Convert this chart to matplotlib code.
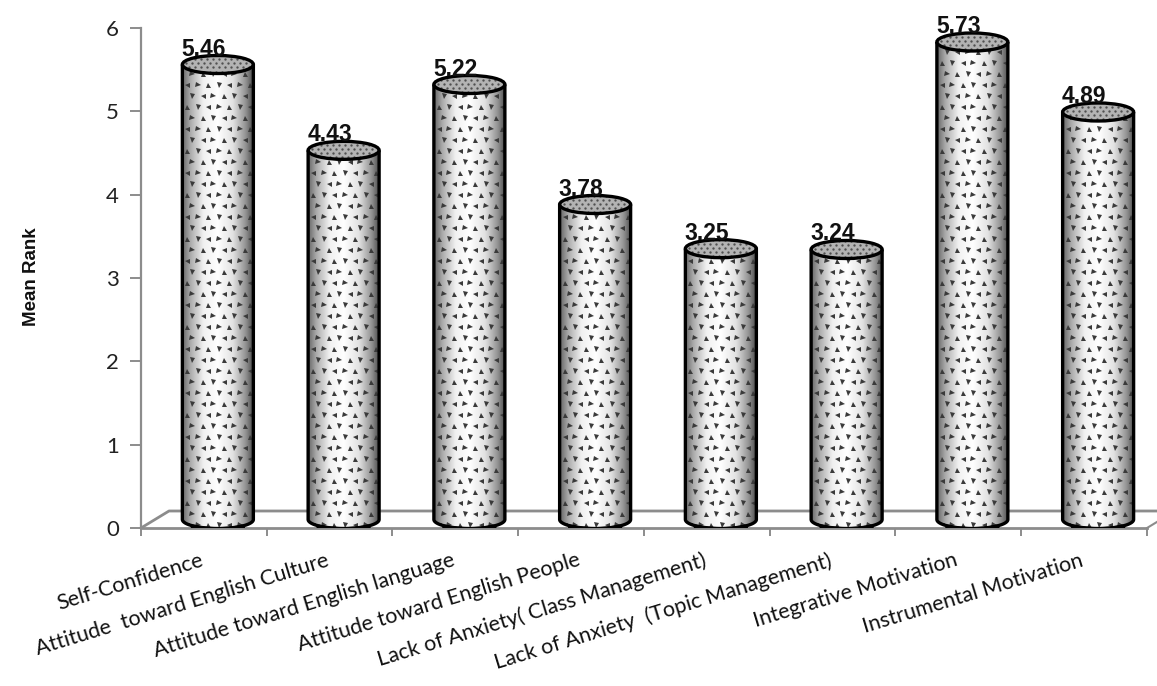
import numpy as np
import matplotlib.pyplot as plt
from matplotlib.patches import Ellipse, PathPatch
from matplotlib.path import Path
from matplotlib.colors import LinearSegmentedColormap

categories = ['Self-Confidence', 'Attitude  toward English Culture',
              'Attitude toward English language', 'Attitude toward English People',
              'Lack of Anxiety( Class Management)', 'Lack of Anxiety  (Topic Management)',
              'Integrative Motivation', 'Instrumental Motivation']
mean_rank = [5.46, 4.43, 5.22, 3.78, 3.25, 3.24, 5.73, 4.89]
y_ticks = [0, 1, 2, 3, 4, 5, 6]

W, H = 1157, 686
fig = plt.figure(figsize=(W / 100, H / 100), dpi=100)
ax_l, ax_b, ax_w, ax_h = 141, 158, 1006, 500
ax = fig.add_axes([ax_l / W, ax_b / H, ax_w / W, ax_h / H])
n = len(categories)
ax.set_xlim(-0.5, n - 0.5)
ax.set_ylim(0, 6)

# pixel -> data conversions
sx = ax_w / n
sy = ax_h / 6.0
depth_x = 28 / sx
depth_y = 17 / sy
cyl_w = 71 / sx
ell_h = 18 / sy

axis_grey = '#8c8c8c'

# floor of the 3D plot
fx0, fx1 = -0.5, n - 0.5
ax.plot([fx0, fx0 + depth_x, fx1 + depth_x], [0, depth_y, depth_y],
        color=axis_grey, lw=2, clip_on=False, zorder=1)
ax.plot([fx1, fx1 + depth_x], [0, depth_y], color=axis_grey, lw=1.5,
        clip_on=False, zorder=1)

shade = LinearSegmentedColormap.from_list(
    'cyl', [(0.0, '#686868'), (0.12, '#adadad'), (0.3, '#f0f0f0'),
            (0.5, '#ffffff'), (0.72, '#e2e2e2'), (0.9, '#939393'), (1.0, '#525252')])
grad = np.linspace(0, 1, 200)[np.newaxis, :]

markers = ['<', '>', '^', 'v']

for i, v in enumerate(mean_rank):
    cx = i + depth_x / 2
    base = depth_y / 2
    top = v + depth_y / 2
    x0, x1 = cx - cyl_w / 2, cx + cyl_w / 2

    # body outline: left side, bottom front arc, right side
    t = np.linspace(np.pi, 2 * np.pi, 60)
    arc_x = cx + cyl_w / 2 * np.cos(t)
    arc_y = base + ell_h / 2 * np.sin(t)
    verts = [(x0, top)] + list(zip(arc_x, arc_y)) + [(x1, top), (x0, top)]
    body = Path(verts, closed=True)
    clip = PathPatch(body, transform=ax.transData, fc='none', ec='none')
    ax.add_patch(clip)

    im = ax.imshow(grad, extent=[x0, x1, base - ell_h / 2, top], cmap=shade,
                   aspect='auto', zorder=2, interpolation='bilinear')
    im.set_clip_path(clip)

    # dotted texture
    gx = np.arange(x0 + 5 / sx, x1, 10.5 / sx)
    gy = np.arange(base - ell_h / 2 + 4 / sy, top, 11 / sy)
    for r, yy in enumerate(gy):
        xs = gx + (5 / sx if r % 2 else 0)
        for k, xx in enumerate(xs):
            m = markers[(r + k) % 4]
            dot = ax.plot(xx, yy, marker=m, ms=3.6, color='#3a3a3a', mew=0,
                          zorder=3)[0]
            dot.set_clip_path(clip)

    outline = PathPatch(Path(verts[:-1]), fc='none', ec='black', lw=2.4,
                        zorder=4, joinstyle='round')
    ax.add_patch(outline)
    ax.plot(arc_x[15:45], arc_y[15:45] - 1.0 / sy, color='black', lw=3.5,
            zorder=4, solid_capstyle='round')

    # top cap
    cap = Ellipse((cx, top), cyl_w, ell_h, fc='#b3b3b3', ec='none', zorder=5)
    ax.add_patch(cap)
    cgx = np.arange(x0 + 4 / sx, x1, 6 / sx)
    for r, yy in enumerate(np.arange(top - ell_h / 2 + 2 / sy, top + ell_h / 2, 4 / sy)):
        sp = ax.plot(cgx + (3 / sx if r % 2 else 0), np.full(len(cgx), yy), ls='none',
                     marker='o', ms=1.7, color='#505050', mew=0, zorder=6)[0]
        sp.set_clip_path(cap)
    ax.add_patch(Ellipse((cx, top), cyl_w, ell_h, fc='none', ec='black', lw=2.4,
                         zorder=7))

    ax.text(i, top + ell_h / 2, f'{v:.2f}', ha='center', va='baseline',
            fontsize=16.5, fontweight='bold', family='Liberation Sans', color='#111111',
            zorder=8)

# axes styling
for s in ['top', 'right']:
    ax.spines[s].set_visible(False)
ax.spines['left'].set_color(axis_grey)
ax.spines['left'].set_linewidth(1.6)
ax.spines['bottom'].set_color(axis_grey)
ax.spines['bottom'].set_linewidth(2)
ax.set_yticks(y_ticks)
ax.set_yticklabels([str(y) for y in y_ticks], family='Lato', fontsize=16, color='#222222')
ax.tick_params(axis='y', direction='out', length=8, width=1.4, color=axis_grey, pad=8)

ax.set_xticks(np.arange(-0.5, n, 1.0))
ax.set_xticklabels([])
ax.tick_params(axis='x', direction='out', length=6, width=1.4, color=axis_grey)

for i, name in enumerate(categories):
    ax.annotate(name, xy=(i, 0), xytext=(-3, -16), textcoords='offset points',
                ha='right', va='top', rotation=17, rotation_mode='anchor',
                family='Lato', fontsize=15.5, color='#111111', annotation_clip=False)

fig.text(32 / W, 1 - 277 / H, 'Mean Rank', rotation=90, ha='center', va='center',
         family='Liberation Sans', fontweight='bold', fontsize=13.5, color='#111111')

fig.savefig('out.png', dpi=100)
